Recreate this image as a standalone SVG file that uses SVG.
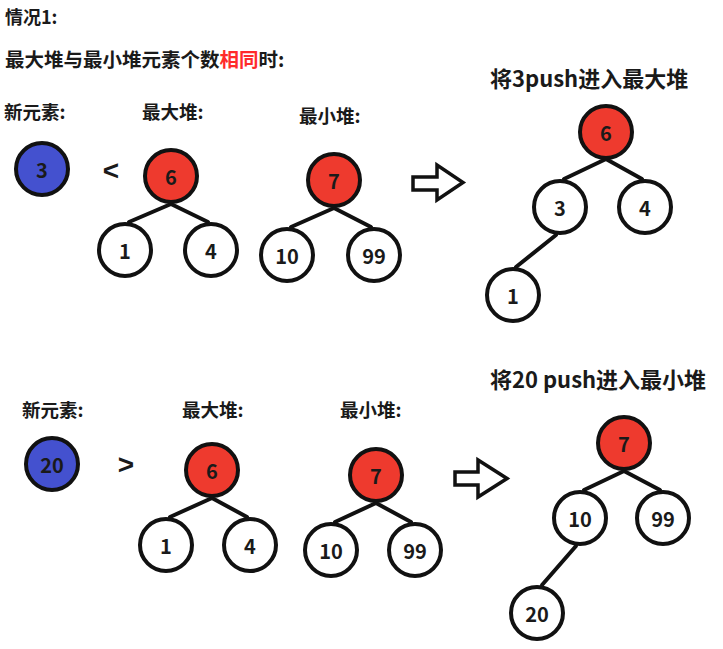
<svg xmlns="http://www.w3.org/2000/svg" width="723" height="649" viewBox="0 0 723 649">
<style>
.t{font-family:"Noto Sans CJK SC","Liberation Sans",sans-serif;font-weight:bold;fill:#1a1a1a}
.n circle{stroke:#111;stroke-width:4;fill:#fff}
.n.red circle{fill:#ee3a2e}
.n.blue circle{fill:#4451cf}
.n text{font-family:"Noto Sans CJK SC","Liberation Sans",sans-serif;font-weight:bold;font-size:20px;fill:#1a1a1a;text-anchor:middle;dominant-baseline:central}
.e line{stroke:#111;stroke-width:4;stroke-linecap:round}
.arrow{fill:#fff;stroke:#111;stroke-width:3.5;stroke-linejoin:miter}
.op{font-family:"Liberation Sans",sans-serif;font-weight:bold;font-size:28px;fill:#1a1a1a;text-anchor:middle}
</style>
<rect width="723" height="649" fill="#fff"/>

<text class="t" x="5" y="24" font-size="18">情况1:</text>
<text class="t" x="5" y="67" font-size="19.5">最大堆与最小堆元素个数<tspan fill="#ff2b2b">相同</tspan>时:</text>

<text class="t" x="4" y="119" font-size="18.5">新元素:</text>
<text class="t" x="142" y="119" font-size="18.5">最大堆:</text>
<text class="t" x="299" y="123" font-size="18.5">最小堆:</text>
<text class="t" x="490" y="87" font-size="22">将3push进入最大堆</text>

<text class="t" x="22" y="417" font-size="18.5">新元素:</text>
<text class="t" x="182" y="417" font-size="18.5">最大堆:</text>
<text class="t" x="340" y="417" font-size="18.5">最小堆:</text>
<text class="t" x="490" y="388" font-size="22">将20 push进入最小堆</text>

<text class="op" x="111" y="180">&lt;</text>
<text class="op" x="126" y="474">&gt;</text>

<path class="arrow" d="M413,177 H437 V165 L463,182.5 L437,200 V190 H413 Z"/>
<path class="arrow" d="M455,472 H478 V460 L507,478.5 L478,497 V485 H455 Z"/>

<g id="edges" class="e">
  <line x1="171" y1="204" x2="129" y2="222"/>
  <line x1="171" y1="204" x2="208" y2="222"/>
  <line x1="334" y1="208" x2="291" y2="227"/>
  <line x1="334" y1="208" x2="371" y2="227"/>
  <line x1="606" y1="159" x2="564" y2="179"/>
  <line x1="606" y1="159" x2="642" y2="179"/>
  <line x1="556" y1="235" x2="516" y2="267"/>
  <line x1="212" y1="498" x2="170" y2="517"/>
  <line x1="212" y1="498" x2="247" y2="517"/>
  <line x1="376" y1="503" x2="335" y2="522"/>
  <line x1="376" y1="503" x2="411" y2="522"/>
  <line x1="624" y1="471" x2="584" y2="490"/>
  <line x1="624" y1="471" x2="660" y2="490"/>
  <line x1="576" y1="546" x2="542" y2="585"/>
</g>

<g id="new3" class="n blue"><circle cx="42" cy="169" r="26"/><text x="42" y="169">3</text></g>
<g id="max6" class="n red"><circle cx="171" cy="176" r="26"/><text x="171" y="176">6</text></g>
<g id="max1" class="n"><circle cx="125" cy="250" r="26"/><text x="125" y="250">1</text></g>
<g id="max4" class="n"><circle cx="211" cy="250" r="26"/><text x="211" y="250">4</text></g>
<g id="min7" class="n red"><circle cx="334" cy="180" r="26"/><text x="334" y="180">7</text></g>
<g id="min10" class="n"><circle cx="287" cy="255" r="26"/><text x="287" y="255">10</text></g>
<g id="min99" class="n"><circle cx="374" cy="255" r="26"/><text x="374" y="255">99</text></g>

<g id="r6" class="n red"><circle cx="606" cy="132" r="26"/><text x="606" y="132">6</text></g>
<g id="r3" class="n"><circle cx="560" cy="207" r="26"/><text x="560" y="207">3</text></g>
<g id="r4" class="n"><circle cx="645" cy="207" r="26"/><text x="645" y="207">4</text></g>
<g id="r1" class="n"><circle cx="513" cy="295" r="26"/><text x="513" y="295">1</text></g>

<g id="new20" class="n blue"><circle cx="52" cy="464" r="26"/><text x="52" y="464">20</text></g>
<g id="bmax6" class="n red"><circle cx="212" cy="470" r="26"/><text x="212" y="470">6</text></g>
<g id="bmax1" class="n"><circle cx="166" cy="545" r="26"/><text x="166" y="545">1</text></g>
<g id="bmax4" class="n"><circle cx="250" cy="545" r="26"/><text x="250" y="545">4</text></g>
<g id="bmin7" class="n red"><circle cx="376" cy="475" r="26"/><text x="376" y="475">7</text></g>
<g id="bmin10" class="n"><circle cx="331" cy="550" r="26"/><text x="331" y="550">10</text></g>
<g id="bmin99" class="n"><circle cx="415" cy="550" r="26"/><text x="415" y="550">99</text></g>

<g id="b7" class="n red"><circle cx="624" cy="443" r="26"/><text x="624" y="443">7</text></g>
<g id="b10" class="n"><circle cx="580" cy="518" r="26"/><text x="580" y="518">10</text></g>
<g id="b99" class="n"><circle cx="663" cy="518" r="26"/><text x="663" y="518">99</text></g>
<g id="b20" class="n"><circle cx="537" cy="613" r="26"/><text x="537" y="613">20</text></g>
</svg>
